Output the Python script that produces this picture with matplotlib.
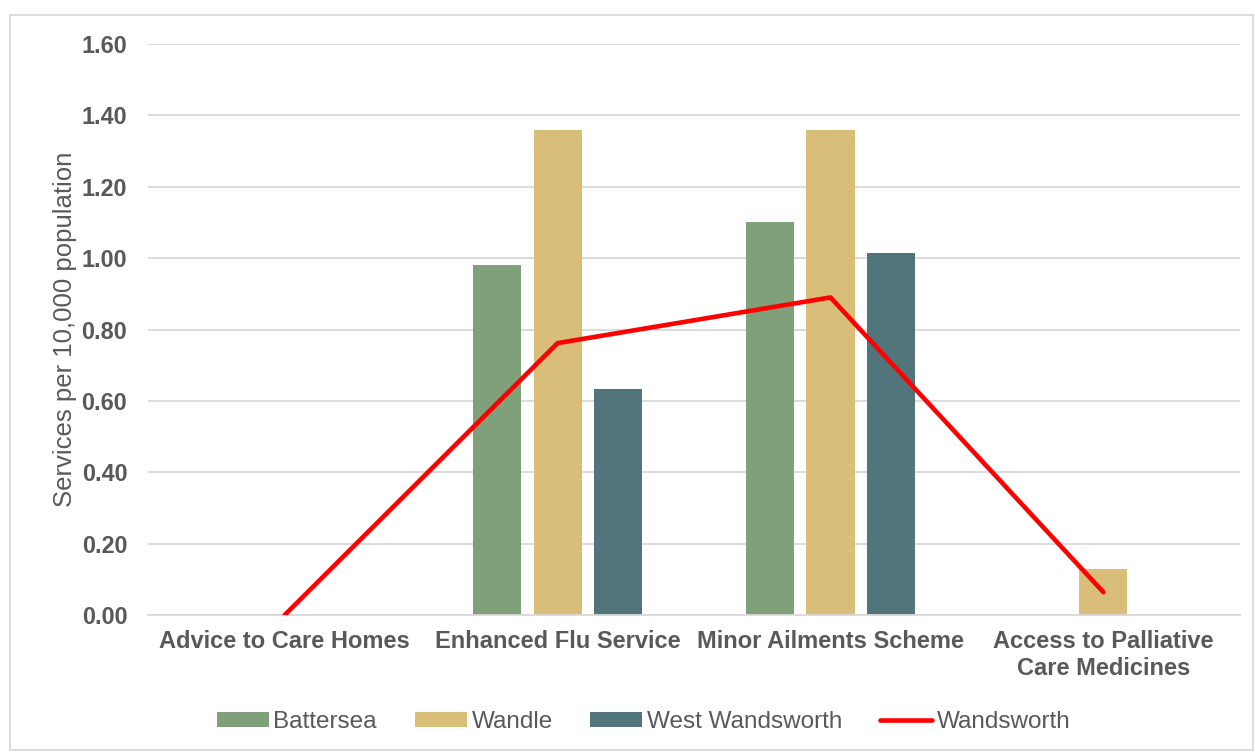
import matplotlib
matplotlib.use('Agg')
import matplotlib.pyplot as plt
import numpy as np
from matplotlib.patches import Rectangle

categories = ['Advice to Care Homes', 'Enhanced Flu Service', 'Minor Ailments Scheme',
              'Access to Palliative\nCare Medicines']
battersea = [0.0, 0.98, 1.10, 0.0]
wandle = [0.0, 1.36, 1.36, 0.13]
west_wandsworth = [0.0, 0.633, 1.015, 0.0]
wandsworth = [0.0, 0.762, 0.89, 0.064]
yticks = [0.0, 0.2, 0.4, 0.6, 0.8, 1.0, 1.2, 1.4, 1.6]

plt.rcParams['font.family'] = ['Liberation Sans', 'DejaVu Sans']
grey = '#595959'

fig = plt.figure(figsize=(12.55, 7.52), dpi=100)
ax = fig.add_axes([0.118, 0.182, 0.870, 0.7595])

x = np.arange(len(categories))
w = 0.176
step = 0.223
ax.bar(x - step, battersea, w, color='#7FA079', label='Battersea', zorder=2)
ax.bar(x, wandle, w, color='#D9BE7A', label='Wandle', zorder=2)
ax.bar(x + step, west_wandsworth, w, color='#51757A', label='West Wandsworth', zorder=2)
ax.plot(x, wandsworth, color='#FF0000', lw=3.3, solid_capstyle='round', label='Wandsworth', zorder=3)

ax.set_xlim(-0.5, len(categories) - 0.5)
ax.set_ylim(0, 1.6)
ax.set_yticks(yticks)
ax.set_yticklabels(['%.2f' % v for v in yticks], fontsize=16.8, fontweight='bold', color=grey)
ax.set_xticks(x)
ax.set_xticklabels(categories, fontsize=17, fontweight='bold', color=grey)
ax.tick_params(axis='y', length=0, pad=15)
ax.tick_params(axis='x', length=0, pad=11)
ax.set_ylabel('Services per 10,000 population', fontsize=18.5, color=grey, labelpad=3)

ax.grid(axis='y', color='#D9D9D9', lw=1.3, zorder=0)
for s in ['top', 'right', 'left']:
    ax.spines[s].set_visible(False)
ax.spines['bottom'].set_color('#D9D9D9')
ax.spines['bottom'].set_linewidth(1.3)

handles, labels = ax.get_legend_handles_labels()
order = [1, 2, 3, 0]
leg = fig.legend([handles[i] for i in order], [labels[i] for i in order],
                 loc='center', bbox_to_anchor=(0.513, 0.04), ncol=4, frameon=False,
                 fontsize=17.5, handlelength=2.14, handleheight=0.6, columnspacing=1.55,
                 handletextpad=0.2)
for t in leg.get_texts():
    t.set_color(grey)

fig.patches.append(Rectangle((10 / 1255, 2 / 752), 1243 / 1255, 735 / 752,
                             transform=fig.transFigure, fill=False,
                             edgecolor='#D9D9D9', lw=1.3))

fig.savefig('out.png', dpi=100)
